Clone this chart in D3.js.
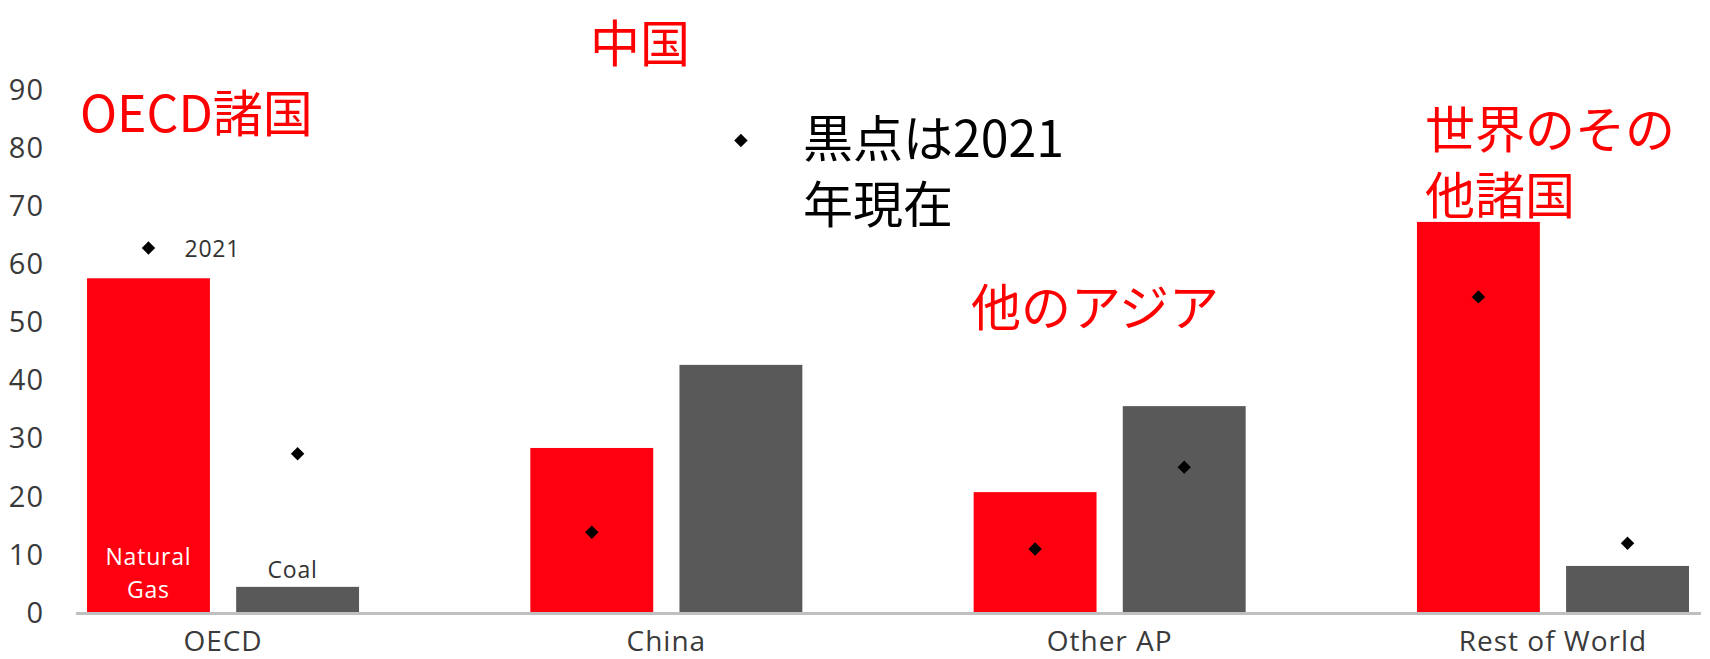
<!DOCTYPE html>
<html>
<head>
<meta charset="utf-8">
<script src="https://cdn.jsdelivr.net/npm/d3@7"></script>
<style>
  html, body { margin: 0; padding: 0; background: #fff; }
  svg { display: block; }
  .tick text { font-family: "Open Sans", "DejaVu Sans", sans-serif; fill: #3a3a3a; }
  .note { font-family: "Noto Sans CJK JP", sans-serif; }
</style>
</head>
<body>
<svg id="chart" width="1710" height="659"></svg>
<script>
// Regions and the two fuels compared in each
const regions = ["OECD", "China", "Other AP", "Rest of World"];
const fuels = ["Natural Gas", "Coal"];

// Bar values per region (current)
const gasValues = [57.6, 28.4, 20.8, 67.3];
const coalValues = [4.5, 42.7, 35.6, 8.1];

// Black diamonds: values as of 2021
const gas2021 = [62.8, 13.9, 11.0, 54.4];
const coal2021 = [27.4, 81.3, 25.1, 12.0];

const yTicks = [0, 10, 20, 30, 40, 50, 60, 70, 80, 90];

// Japanese region captions
const regionNotes = [
  { lines: ["OECD諸国"], x: 80, y: 110 },
  { lines: ["中国"], x: 590, y: 40 },
  { lines: ["他のアジア"], x: 971, y: 304 },
  { lines: ["世界のその", "他諸国"], x: 1425, y: 126 }
];
const dotNote = { lines: ["黒点は2021", "年現在"], x: 803, y: 135 };

const colors = { "Natural Gas": "#ff0010", "Coal": "#595959" };

const svg = d3.select("#chart");

const y = d3.scaleLinear().domain([0, 90]).range([613, 90]);

const x = d3.scaleBand()
  .domain(regions)
  .range([75.5, 1700.5])
  .paddingInner(0.3864)
  .paddingOuter(0.026);

const xInner = d3.scaleBand()
  .domain(fuels)
  .range([0, x.bandwidth()])
  .paddingInner(0.176);

const rows = regions.map((r, i) => ({
  region: r,
  items: [
    { fuel: "Natural Gas", value: gasValues[i], v2021: gas2021[i] },
    { fuel: "Coal", value: coalValues[i], v2021: coal2021[i] }
  ]
}));

// Bars
const groups = svg.append("g").selectAll("g")
  .data(rows)
  .join("g")
  .attr("transform", d => `translate(${x(d.region)},0)`);

groups.selectAll("rect")
  .data(d => d.items)
  .join("rect")
  .attr("x", d => xInner(d.fuel))
  .attr("width", xInner.bandwidth())
  .attr("y", d => y(d.value))
  .attr("height", d => y(0) - y(d.value))
  .attr("fill", d => colors[d.fuel]);

// Category axis
const xAxis = svg.append("g")
  .attr("transform", `translate(0,${y(0)})`)
  .call(d3.axisBottom(x).tickSize(0).tickPadding(18));
xAxis.select(".domain").attr("stroke", "#bfbfbf").attr("stroke-width", 3);
xAxis.selectAll(".tick text").attr("font-size", 28).attr("letter-spacing", 1);

// Value axis (labels only)
const yAxis = svg.append("g")
  .attr("transform", "translate(46,0)")
  .call(d3.axisLeft(y).tickValues(yTicks).tickSize(0).tickPadding(2));
yAxis.select(".domain").remove();
yAxis.selectAll(".tick text").attr("font-size", 29).attr("letter-spacing", 1);

// 2021 diamonds
groups.selectAll("path.dot")
  .data(d => d.items)
  .join("path")
  .attr("class", "dot")
  .attr("d", d3.symbol(d3.symbolSquare, 90))
  .attr("transform", d => `translate(${xInner(d.fuel) + xInner.bandwidth() / 2},${y(d.v2021)}) rotate(45)`)
  .attr("fill", "#000");

// Labels inside the first group
const first = rows[0];
const gx = x(first.region);
const gasCx = gx + xInner("Natural Gas") + xInner.bandwidth() / 2;
const coalCx = gx + xInner("Coal") + xInner.bandwidth() / 2;
const smallFont = "'Open Sans', 'DejaVu Sans', sans-serif";

function smallLabel(text, xPos, yPos, fill, anchor) {
  svg.append("text")
    .attr("x", xPos).attr("y", yPos)
    .attr("text-anchor", anchor).attr("dominant-baseline", "central")
    .attr("font-family", smallFont).attr("font-size", 23)
    .attr("letter-spacing", 0.8).attr("fill", fill)
    .text(text);
}
smallLabel("Natural", gasCx, y(0) - 57, "#fff", "middle");
smallLabel("Gas", gasCx, y(0) - 24, "#fff", "middle");
smallLabel("Coal", coalCx - 5, y(first.items[1].value) - 18, "#333", "middle");
smallLabel("2021", gasCx + 36, y(first.items[0].v2021), "#333", "start");

// Captions
function caption(note, color) {
  const t = svg.append("text")
    .attr("class", "note")
    .attr("font-size", 50)
    .attr("fill", color)
    .attr("dominant-baseline", "central");
  note.lines.forEach((line, i) => {
    t.append("tspan").attr("x", note.x).attr("y", note.y + i * 66).text(line);
  });
}
regionNotes.forEach(n => caption(n, "#ff0000"));
caption(dotNote, "#000");
</script>
</body>
</html>
